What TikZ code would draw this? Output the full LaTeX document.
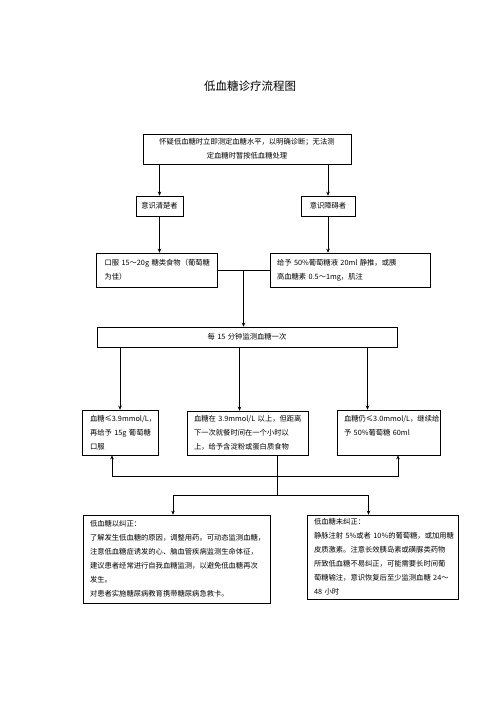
\documentclass[tikz,border=0pt]{standalone}
\usepackage{fontspec}
\newfontfamily\cjk{Noto Sans CJK SC}
\usetikzlibrary{arrows.meta,calc}
\tikzset{
  flowbox/.style={draw=black, line width=0.7pt, inner xsep=7pt, inner ysep=0pt,
    align=left, font=\cjk\fontsize{7.3}{14}\selectfont},
  midbox/.style={flowbox, align=center},
  flowline/.style={line width=0.7pt, draw=black},
  flowarrow/.style={flowline, -{Stealth[length=4pt,width=3.6pt]}},
  titlelabel/.style={font=\cjk\fontsize{11.5}{14}\selectfont},
}

\begin{document}
\begin{tikzpicture}[x=1pt,y=-1pt]
\useasboundingbox (0,0) rectangle (496,702);
\node[titlelabel] (title) at (250,86) {低血糖诊疗流程图};
% boxes
\node[midbox, minimum width=208, minimum height=30, text width=194] (suspect) at (247,149)
  {怀疑低血糖时立即测定血糖水平，以明确诊断；无法测\\定血糖时暂按低血糖处理};
\node[midbox, minimum width=47, minimum height=20, inner xsep=0pt] (awake) at (159.5,206) {意识清楚者};
\node[midbox, minimum width=54, minimum height=20, inner xsep=0pt] (faint) at (328,206) {意识障碍者};
\node[flowbox, minimum width=121, minimum height=34, text width=104, inner xsep=8.5pt] (oral) at (156.5,270)
  {口服~15～20g~糖类食物（葡萄糖\\为佳）};
\node[flowbox, minimum width=160, minimum height=34, text width=146] (inject) at (350,270)
  {给予~50\%葡萄糖液~20ml~静推，或胰\\高血糖素~0.5～1mg，肌注};
\node[midbox, minimum width=300, minimum height=20, text width=286] (check) at (247,337)
  {每~15~分钟监测血糖一次};
\node[flowbox, minimum width=76, minimum height=45, text width=60, inner xsep=8pt] (low) at (120,432.5)
  {血糖≤3.9mmol/L，\\再给予~15g~葡萄糖\\口服};
\node[flowbox, minimum width=121, minimum height=44, text width=107] (meal) at (247.5,433)
  {血糖在~3.9mmol/L~以上，但距离\\下一次就餐时间在一个小时以\\上，给予含淀粉或蛋白质食物};
\node[flowbox, minimum width=103, minimum height=45, text width=89] (still) at (388.5,432.5)
  {血糖仍≤3.0mmol/L，继续给\\予~50\%葡萄糖~60ml\\~};
\node[flowbox, minimum width=187, minimum height=88, text width=173] (fixed) at (176.5,559)
  {低血糖以纠正：\\了解发生低血糖的原因，调整用药。可动态监测血糖，\\注意低血糖症诱发的心、脑血管疾病监测生命体征，\\建议患者经常进行自我血糖监测，以避免低血糖再次\\发生。\\对患者实施糖尿病教育携带糖尿病急救卡。};
\node[flowbox, minimum width=151, minimum height=84, text width=137] (unfixed) at (382.5,557)
  {低血糖未纠正：\\静脉注射~5\%或者~10\%的葡萄糖，或加用糖\\皮质激素。注意长效胰岛素或磺脲类药物\\所致低血糖不易纠正，可能需要长时间葡\\萄糖输注，意识恢复后至少监测血糖~24～\\48~小时};
% connectors
\draw[flowarrow] (suspect.south -| awake.north) -- (awake.north);
\draw[flowarrow] (suspect.south -| faint.north) -- (faint.north);
\draw[flowarrow] (awake.south) -- (awake.south |- oral.north);
\draw[flowarrow] (faint.south) -- (faint.south |- inject.north);
\draw[flowline] (oral.east) -- (inject.west);
\coordinate (merge) at ($(oral.east)!0.5!(inject.west)$);
\draw[flowarrow] (merge) -- (merge |- check.north);
\coordinate (mealin) at ([xshift=-8pt]meal.north);
\coordinate (stillin) at ([xshift=-21pt]still.north);
\draw[flowarrow] (check.south -| low.north) -- (low.north);
\draw[flowarrow] (check.south -| mealin) -- (mealin);
\draw[flowarrow] (check.south -| stillin) -- (stillin);
\coordinate (upjoin) at (277,476);
\coordinate (downjoin) at (277,495);
\draw[flowline] ([xshift=29.5pt]meal.south) -- (downjoin);
\draw[flowarrow] (upjoin) -| ([xshift=-8pt]low.south);
\draw[flowarrow] (upjoin) -| ([xshift=9.5pt]still.south);
\draw[flowarrow] (downjoin) -| ([xshift=-3.5pt]fixed.north);
\draw[flowarrow] (downjoin) -| ([xshift=-14pt]unfixed.north);
\end{tikzpicture}
\end{document}
